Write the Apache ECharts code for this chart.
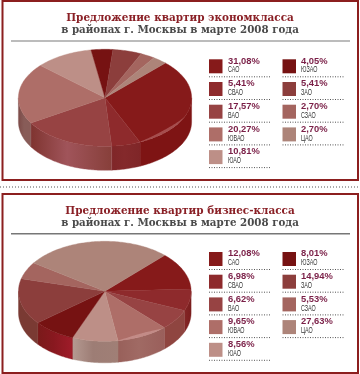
<!DOCTYPE html>
<html><head><meta charset="utf-8">
<style>html,body{margin:0;padding:0;background:#fff}#c{width:360px;height:374px}</style>
<script src="https://cdn.jsdelivr.net/npm/echarts@6/dist/echarts.min.js"></script>
</head><body><div id="c"></div>
<script>
const districts = ['САО','СВАО','ВАО','ЮВАО','ЮАО','ЮЗАО','ЗАО','СЗАО','ЦАО'];
const economyValues = [31.08,5.41,17.57,20.27,10.81,4.05,5.41,2.70,2.70];
const businessValues = [12.08,6.98,6.62,9.65,8.56,8.01,14.94,5.53,27.63];
const sliceColors = ['#861a1a','#8e2a2c','#974343','#ae6e68','#bd8f87','#761212','#8c3e3c','#a4655f','#ad8479'];
const economySide = [['#7e1414','#7e1414','#7e1414'],['#7f2628','#84292b','#7f2628'],['#7f3430','#a0545a','#873f3a'],['#7c4a47','#885c58','#885c58'],null,null,null,null,null];
const businessSide = [['#7f1a1a','#7f1a1a','#7f1a1a'],['#842626','#7f2222','#7a1d1d'],['#8f4540','#8f4540','#8f4540'],['#98605a','#a06a64','#9a5f5b'],['#b59a92','#9d7d75','#a07f76'],['#7a1a1a','#88181f','#a01c2a'],['#7a3a33','#7a3a33','#7a3a33'],null,null];
const title1 = ['Предложение квартир экономкласса','в районах г. Москвы в марте 2008 года'];
const title2 = ['Предложение квартир бизнес-класса','в районах г. Москвы в марте 2008 года'];

const fmt = v => v.toFixed(2).replace('.', ',') + '%';

function pieSeries(values, sides, geom) {
  const total = values.reduce((a, b) => a + b, 0);
  const pt = (deg, dy) => {
    const r = deg * Math.PI / 180;
    return [geom.cx + geom.rx * Math.sin(r), geom.cy - geom.ry * Math.cos(r) + (dy || 0)];
  };
  return {
    type: 'custom', coordinateSystem: 'none', silent: true, animation: false,
    clip: false,
    data: values.map(v => [v]),
    renderItem(params, api) {
      const i = params.dataIndex;
      let before = 0;
      for (let k = 0; k < i; k++) before += values[k];
      const a0 = geom.start + before / total * 360;
      const a1 = a0 + api.value(0) / total * 360;
      const children = [];
      const top = [[geom.cx, geom.cy]];
      for (let a = a0; a < a1; a += 1) top.push(pt(a));
      top.push(pt(a1));
      for (const off of [0, 360]) {
        const s0 = Math.max(a0, 90 + off), s1 = Math.min(a1, 270 + off);
        if (s1 <= s0) continue;
        const poly = [];
        for (let a = s0; a < s1; a += 1) poly.push(pt(a));
        poly.push(pt(s1));
        for (let a = s1; a > s0; a -= 1) poly.push(pt(a, geom.depth));
        poly.push(pt(s0, geom.depth));
        const st = sides[i] || [sliceColors[i], sliceColors[i], sliceColors[i]];
        const fill = new echarts.graphic.LinearGradient(0, 0, 1, 0, [
          { offset: 0, color: st[0] }, { offset: 0.45, color: st[1] }, { offset: 1, color: st[2] }
        ]);
        children.push({ type: 'polygon', shape: { points: poly }, style: { fill, stroke: st[1], lineWidth: 0.4 } });
      }
      children.push({ type: 'polygon', shape: { points: top }, style: { fill: sliceColors[i], stroke: sliceColors[i], lineWidth: 0.4 } });
      return { type: 'group', children };
    }
  };
}

function rim(geom) {
  return {
    type: 'custom', coordinateSystem: 'none', silent: true, animation: false, clip: false,
    data: [[0]],
    renderItem() {
      const pts = [];
      const P = (deg, inset) => {
        const r = deg * Math.PI / 180;
        return [geom.cx + geom.rx * Math.sin(r), geom.cy - geom.ry * Math.cos(r) - inset];
      };
      const [a, b] = geom.rim;
      for (let d = a; d <= b; d += 1) pts.push(P(d, 0));
      for (let d = b; d >= a; d -= 1) pts.push(P(d, 3.2 * Math.sin((d - a) / (b - a) * Math.PI)));
      return { type: 'polygon', shape: { points: pts }, style: { fill: 'rgba(255,225,225,0.26)' } };
    }
  };
}

function legendGraphics(values, y0) {
  const out = [];
  const pitch = 22.7;
  values.forEach((v, i) => {
    const col = i < 5 ? 0 : 1;
    const row = col ? i - 5 : i;
    const x = col ? 282.5 : 209;
    const y = y0 + row * pitch;
    const tx = col ? 301 : 228;
    out.push({ type: 'rect', shape: { x, y, width: 13.5, height: 14 }, style: { fill: sliceColors[i] } });
    out.push({ type: 'text', x: tx, y: y + 1.8, style: { text: fmt(v), font: 'bold 9.4px "Liberation Sans"', verticalAlign: 'middle', fill: '#7a1f47' } });
    out.push({ type: 'text', x: tx, y: y + 10.7, scaleX: 0.6, style: { text: districts[i], font: '9px "Liberation Sans"', verticalAlign: 'middle', fill: '#333' } });
    out.push({ type: 'line', shape: { x1: x, y1: y + 17.5, x2: x + 62, y2: y + 17.5 }, style: { stroke: '#555', lineWidth: 1, lineDash: [1, 1.5] } });
  });
  return out;
}

function titleGraphics(lines, y, ruleY, ruleColor) {
  return [
    { type: 'text', x: 180, y: y, scaleX: 0.9, style: { text: lines[0], align: 'center', font: 'bold 11.6px "DejaVu Serif"', fill: '#8a2026' } },
    { type: 'text', x: 180, y: y + 13, scaleX: 0.9, style: { text: lines[1], align: 'center', font: 'bold 11.4px "DejaVu Serif"', fill: '#4a4a4a' } },
    { type: 'line', shape: { x1: 11, y1: ruleY, x2: 350, y2: ruleY }, style: { stroke: ruleColor, lineWidth: 1.6 } }
  ];
}

function frame(y1, y2) {
  return { type: 'rect', shape: { x: 2.5, y: y1, width: 355.5, height: y2 - y1 }, style: { fill: 'none', stroke: '#8c1f1f', lineWidth: 2, lineJoin: 'miter' } };
}

const geom1 = { cx: 105, cy: 97.8, rx: 86.6, ry: 48.5, depth: 24, start: 44.2, rim: [112, 158] };
const geom2 = { cx: 104.8, cy: 291.3, rx: 86.3, ry: 50, depth: 21.5, start: 44, rim: [138, 172] };

const chart = echarts.init(document.getElementById('c'), null, { renderer: 'canvas', width: 360, height: 374 });
chart.setOption({
  animation: false,
  backgroundColor: '#fff',
  series: [pieSeries(economyValues, economySide, geom1), rim(geom1), pieSeries(businessValues, businessSide, geom2), rim(geom2)],
  graphic: { elements: [
    frame(1, 180), frame(194, 373),
    { type: 'line', shape: { x1: 0, y1: 187, x2: 360, y2: 187 }, style: { stroke: '#555', lineWidth: 1, lineDash: [1, 2] } },
    ...titleGraphics(title1, 11.5, 41, '#a6a6a6'),
    ...titleGraphics(title2, 205, 233.7, '#777'),
    ...legendGraphics(economyValues, 59.3),
    ...legendGraphics(businessValues, 252)
  ] }
});
</script></body></html>
